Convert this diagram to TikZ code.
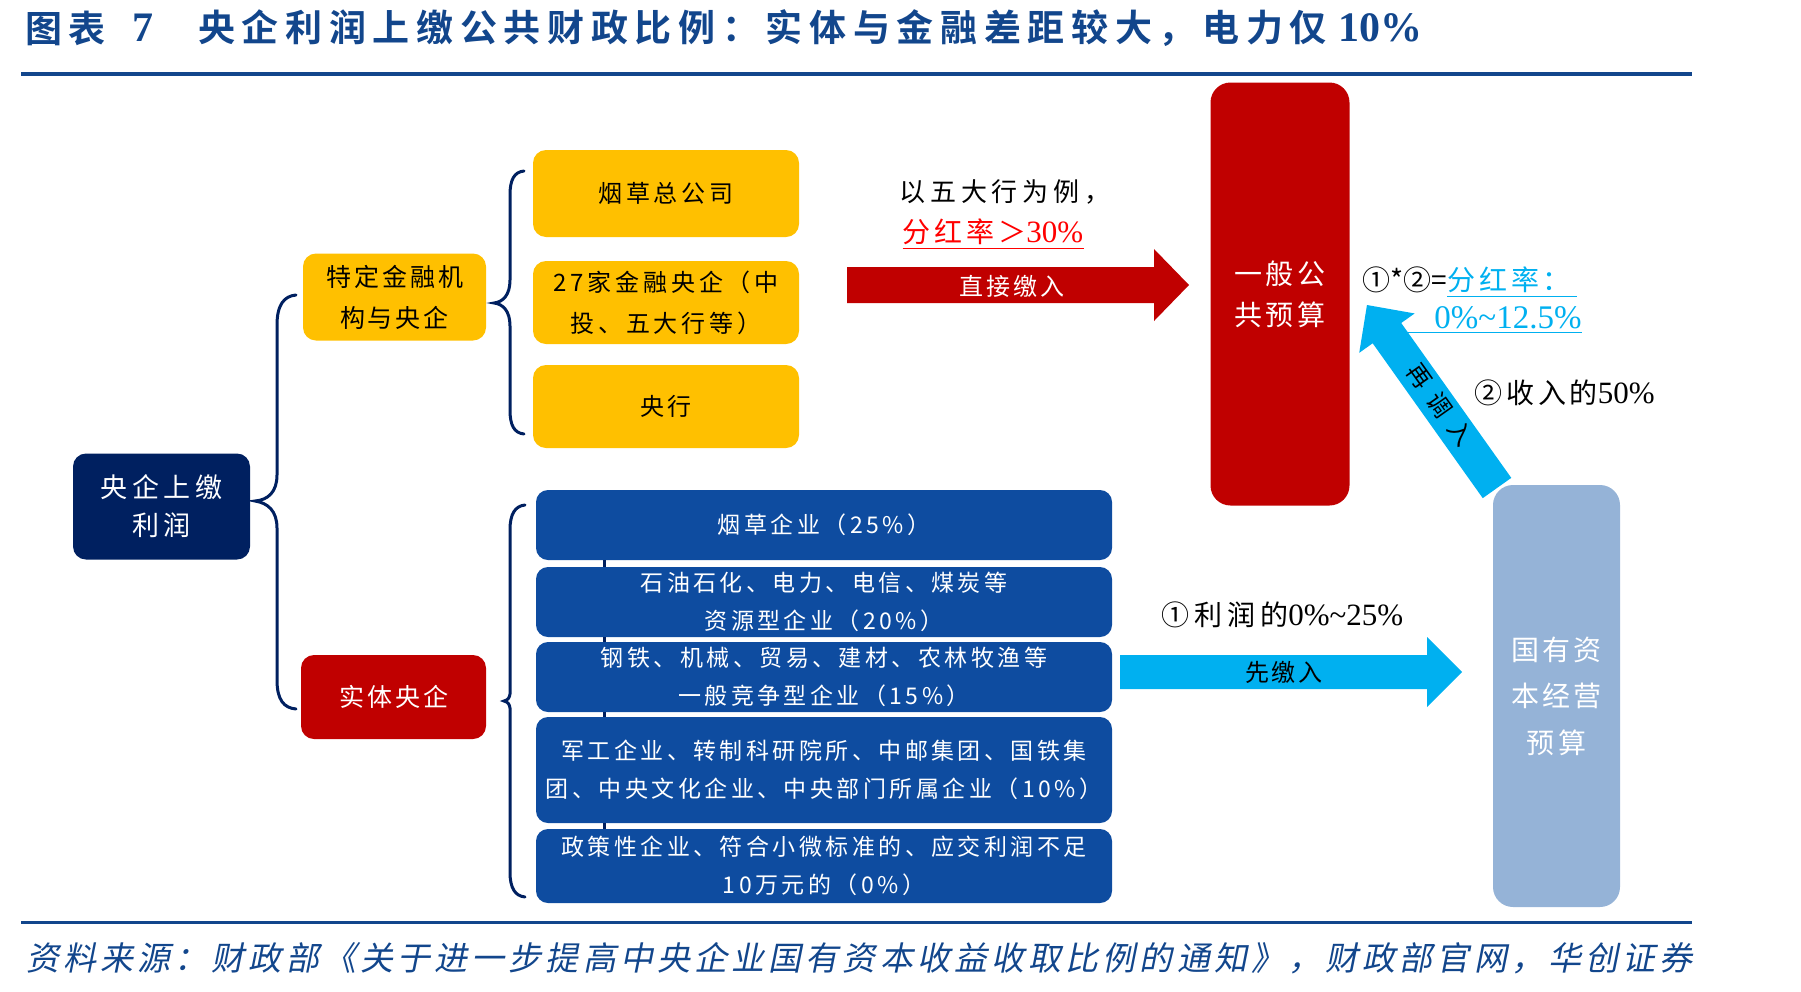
\documentclass[tikz,border=0pt]{standalone}
\usepackage{fontspec}
\setmainfont{Liberation Serif}
\newfontfamily\cjk{Noto Sans CJK SC}[BoldFont={Noto Sans CJK SC Bold}]
\newfontfamily\cjksl{Noto Sans CJK SC}[FakeSlant=0.2]
\definecolor{navy}{RGB}{0,32,96}
\definecolor{titleblue}{RGB}{18,70,140}
\definecolor{gold}{RGB}{255,192,0}
\definecolor{darkred}{RGB}{192,0,0}
\definecolor{midblue}{RGB}{14,76,160}
\definecolor{grayblue}{RGB}{149,179,215}
\definecolor{cyanA}{RGB}{0,176,240}
\definecolor{brred}{RGB}{255,0,0}
\tikzset{
  boxbase/.style={rounded corners=13pt, inner sep=0pt, align=center},
  navybox/.style={boxbase, fill=navy, text=white, font=\cjk\fontsize{27}{38}\selectfont\addfontfeatures{LetterSpace=18}},
  goldA/.style={boxbase, fill=gold, text=black, font=\cjk\fontsize{25}{41}\selectfont\addfontfeatures{LetterSpace=12}},
  goldB/.style={boxbase, fill=gold, text=black, font=\cjk\fontsize{24}{41}\selectfont\addfontfeatures{LetterSpace=16}},
  redA/.style={boxbase, fill=darkred, text=white, font=\cjk\fontsize{25}{41}\selectfont\addfontfeatures{LetterSpace=12}},
  bluebox/.style={boxbase, rounded corners=12pt, fill=midblue, text=white, minimum width=576, font=\cjk\fontsize{23}{38}\selectfont\addfontfeatures{LetterSpace=15}},
  tallred/.style={boxbase, rounded corners=20pt, fill=darkred, text=white, font=\cjk\fontsize{28}{41}\selectfont\addfontfeatures{LetterSpace=11}},
  tallgray/.style={boxbase, rounded corners=20pt, fill=grayblue, text=white, font=\cjk\fontsize{28}{46.5}\selectfont\addfontfeatures{LetterSpace=11}},
  arrowtext/.style={inner sep=0pt, font=\cjk\fontsize{24}{28}\selectfont\addfontfeatures{LetterSpace=12}},
  anno/.style={inner sep=0pt, font=\cjk\fontsize{28}{32}\selectfont\addfontfeatures{LetterSpace=14}},
  brace/.style={draw=navy, line width=3pt, line cap=round},
  stub/.style={draw=navy, line width=3pt},
  rulestyle/.style={draw=titleblue},
}
\newcommand{\serifnum}[1]{{\rmfamily\fontsize{31}{32}\selectfont #1}}
\begin{document}
\begin{tikzpicture}[x=1pt,y=-1pt]
\useasboundingbox (0,0) rectangle (1801,991);
% title
\node[anchor=west, inner sep=0pt, text=titleblue, font=\cjk\bfseries\fontsize{37}{40}\selectfont\addfontfeatures{LetterSpace=16}] (t1) at (25,28) {图表};
\node[anchor=west, inner sep=0pt, text=titleblue, font=\rmfamily\bfseries\fontsize{42}{42}\selectfont] (t7) at (132,28) {7};
\node[anchor=west, inner sep=0pt, text=titleblue, font=\cjk\bfseries\fontsize{37}{40}\selectfont\addfontfeatures{LetterSpace=18}] (t2) at (198,28) {央企利润上缴公共财政比例：实体与金融差距较大，电力仅\hspace{12pt}{\rmfamily\bfseries\fontsize{42}{42}\selectfont 10\%}};
\draw[rulestyle, line width=4pt] (21,73.5) -- (1692,73.5);
\draw[rulestyle, line width=3.5pt] (21,922.5) -- (1692,922.5);
\node[anchor=west, inner sep=0pt, text=titleblue, font=\cjksl\fontsize{33}{36}\selectfont\addfontfeatures{LetterSpace=12.5}] (src) at (26,958) {资料来源：财政部《关于进一步提高中央企业国有资本收益收取比例的通知》，财政部官网，华创证券};

% braces
\draw[brace] (296,295) .. controls (284,296) and (277,305) .. (277,325) -- (277,475) .. controls (277,492) and (268,500) .. (255,501) .. controls (268,503) and (277,511) .. (277,528) -- (277,680) .. controls (277,700) and (284,708) .. (296,709);
\draw[brace] (524,171) .. controls (514,172) and (510,180) .. (510,195) -- (510,280) .. controls (510,295) and (503,302) .. (494,303) .. controls (503,304) and (510,311) .. (510,326) -- (510,410) .. controls (510,425) and (514,433) .. (524,434);
\draw[brace] (525,505) .. controls (515,506) and (510,514) .. (510,530) -- (510,677) .. controls (510,692) and (512,699) .. (504,701) .. controls (512,703) and (510,710) .. (510,725) -- (510,872) .. controls (510,888) and (515,896) .. (525,897);

% left nodes
\node[navybox, minimum width=177, minimum height=106] (root) at (161.5,506.5) {央企上缴\\利润};
\node[goldA, minimum width=183, minimum height=87] (fin) at (394.5,297) {特定金融机\\构与央企};
\node[redA, minimum width=185, minimum height=84] (ent) at (393.5,697) {实体央企};

% gold boxes
\node[goldB, minimum width=266, minimum height=87] (y1) at (666,193.5) {烟草总公司};
\node[goldB, minimum width=266, minimum height=83] (y2) at (666,302.5) {27家金融央企（中\\投、五大行等）};
\node[goldB, minimum width=266, minimum height=83] (y3) at (666,406.5) {央行};

% blue boxes
\node[bluebox, minimum height=70] (b1) at (824,525) {烟草企业（25\%）};
\node[bluebox, minimum height=70] (b2) at (824,602) {石油石化、电力、电信、煤炭等\\资源型企业（20\%）};
\node[bluebox, minimum height=70] (b3) at (824,677) {钢铁、机械、贸易、建材、农林牧渔等\\一般竞争型企业（15\%）};
\node[bluebox, minimum height=106] (b4) at (824,770) {军工企业、转制科研院所、中邮集团、国铁集\\团、中央文化企业、中央部门所属企业（10\%）};
\node[bluebox, minimum height=74] (b5) at (824,866) {政策性企业、符合小微标准的、应交利润不足\\10万元的（0\%）};
\draw[stub] ([xshift=69pt]b1.south west) -- ([xshift=69pt]b2.north west);
\draw[stub] ([xshift=69pt]b2.south west) -- ([xshift=69pt]b3.north west);
\draw[stub] ([xshift=69pt]b3.south west) -- ([xshift=69pt]b4.north west);
\draw[stub] ([xshift=69pt]b4.south west) -- ([xshift=69pt]b5.north west);

% diagonal arrow (drawn before the gray box)
\begin{scope}[shift={(1497,488)}, rotate=125.4]
  \fill[cyanA] (0,-17.5) -- (190,-17.5) -- (190,-34) -- (224.5,0) -- (190,34) -- (190,17.5) -- (0,17.5) -- cycle;
\end{scope}
\node[arrowtext, rotate=-54.6, text=black, font=\cjk\fontsize{24}{28}\selectfont\addfontfeatures{LetterSpace=45}] (a3) at (1440,405) {再调入};

% tall boxes
\node[tallred, minimum width=139, minimum height=423] (gp) at (1280,294) {一般公\\共预算};
\node[tallgray, minimum width=127, minimum height=422] (gy) at (1556.5,696) {国有资\\本经营\\预算};

% red arrow
\fill[darkred] (847,267) -- (1154,267) -- (1154,249) -- (1189,285) -- (1154,321) -- (1154,303) -- (847,303) -- cycle;
\node[arrowtext, text=white] (a1) at (1012,286) {直接缴入};
% blue arrow
\fill[cyanA] (1120,655) -- (1427,655) -- (1427,637) -- (1462,672) -- (1427,707) -- (1427,689) -- (1120,689) -- cycle;
\node[arrowtext, text=black] (a2) at (1284,672) {先缴入};

% annotations
\node[anno, font=\cjk\fontsize{26}{30}\selectfont\addfontfeatures{LetterSpace=18}] (n1) at (1005,192) {以五大行为例，};
\node[anno, text=brred] (n2) at (993,232) {分红率＞\serifnum{30\%}};
\draw[brred, line width=1.3pt] ([yshift=-3pt]n2.south west) -- ([yshift=-3pt]n2.south east);

\node[anno, anchor=west, font=\cjk\fontsize{28}{32}\selectfont] (f1) at (1362,280) {①*②=};
\node[anno, anchor=west, text=cyanA] (f2) at (f1.east) {分红率：};
\draw[cyanA, line width=1.3pt] ([yshift=-3pt]f2.south west) -- ([yshift=-3pt,xshift=6pt]f2.south east);
\node[inner sep=0pt, text=cyanA, font=\rmfamily\fontsize{33}{34}\selectfont] (f3) at (1508,318) {0\%\textasciitilde12.5\%};
\draw[cyanA, line width=1.3pt] ([xshift=-26pt,yshift=-3pt]f3.south west) -- ([yshift=-3pt]f3.south east);

\node[anno, anchor=west] (n3) at (1474,393) {②收入的\serifnum{50\%}};
\node[anno, anchor=west, font=\cjk\fontsize{28}{32}\selectfont\addfontfeatures{LetterSpace=18}] (n4) at (1161,615) {①利润的\serifnum{0\%\textasciitilde25\%}};
\end{tikzpicture}
\end{document}
